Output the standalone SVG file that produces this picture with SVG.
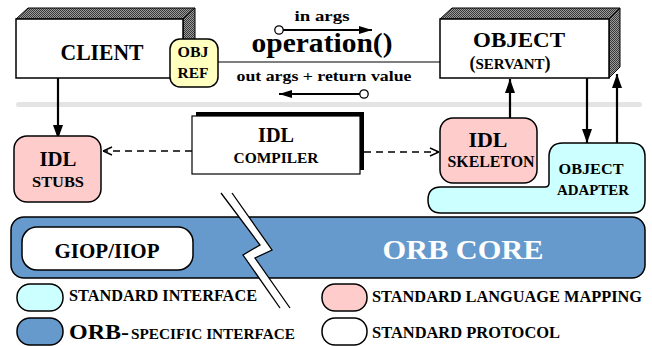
<svg xmlns="http://www.w3.org/2000/svg" width="652" height="346" viewBox="0 0 652 346">
  <style>
    text { font-family: "Liberation Serif", "Times New Roman", serif; font-weight: bold; fill: #000; }
    .box { fill: #fff; stroke: #000; stroke-width: 1.5; }
    .face { fill: url(#dots); stroke: #000; stroke-width: 1; }
    .pink { fill: #ffcccc; stroke: #000; stroke-width: 1.5; }
    .cyan { fill: #ccffff; stroke: #000; stroke-width: 1.5; }
    .blue { fill: #6699cc; stroke: #000; stroke-width: 1.5; }
    .yellow { fill: #ffffc0; stroke: #000; stroke-width: 1.5; }
    .flow { stroke: #000; stroke-width: 2.2; fill: none; }
    .dash { stroke: #000; stroke-width: 1.6; fill: none; stroke-dasharray: 7 5; }
    .thin { stroke: #000; stroke-width: 1.2; fill: none; }
  </style>
  <defs>
    <pattern id="dots" width="2" height="2" patternUnits="userSpaceOnUse">
      <rect width="2" height="2" fill="#9a9a9a"/>
      <rect width="1" height="1" fill="#3a3a3a"/>
      <rect x="1" y="1" width="1" height="1" fill="#3a3a3a"/>
    </pattern>
    <marker id="head" viewBox="0 0 14 10" refX="14" refY="5" markerWidth="14" markerHeight="10" markerUnits="userSpaceOnUse" orient="auto">
      <path d="M0,0 L14,5 L0,10 Z" fill="#000"/>
    </marker>
    <marker id="headS" viewBox="0 0 13 8" refX="13" refY="4" markerWidth="13" markerHeight="8" markerUnits="userSpaceOnUse" orient="auto">
      <path d="M0,0 L13,4 L0,8 Z" fill="#000"/>
    </marker>
    <marker id="open" viewBox="0 0 10 10" refX="10" refY="5" markerWidth="10" markerHeight="10" markerUnits="userSpaceOnUse" orient="auto">
      <path d="M1,1 L10,5 L1,9" fill="none" stroke="#000" stroke-width="1.4"/>
    </marker>
  </defs>

  <!-- separator between application and ORB layers -->
  <rect x="16" y="102" width="626" height="5" rx="2.5" fill="#e4e4e4"/>

  <!-- ORB core with the network break -->
  <g id="orb-core">
    <rect class="blue" x="11" y="217" width="634" height="61" rx="13"/>
    <text x="463" y="259" font-size="27" text-anchor="middle" style="fill:#fff" textLength="161" lengthAdjust="spacingAndGlyphs">ORB  CORE</text>
  </g>
  <g id="giop">
    <rect class="box" x="22" y="227" width="171" height="43" rx="15"/>
    <text x="107" y="258" font-size="20" text-anchor="middle" textLength="105" lengthAdjust="spacingAndGlyphs">GIOP/IIOP</text>
  </g>
  <g id="break">
    <polygon points="221,193 260,245 243,255 280,308 290,308 255,258 272,250 232,193" fill="#fff"/>
    <polyline points="221,193 260,245 243,255 280,308" fill="none" stroke="#000" stroke-width="1.3"/>
    <polyline points="232,193 272,250 255,258 290,308" fill="none" stroke="#000" stroke-width="1.3"/>
  </g>

  <!-- client -->
  <g id="client">
    <polygon class="face" points="16,19 28,8 195,8 183,19"/>
    <polygon class="face" points="183,19 195,8 195,67 183,78"/>
    <rect class="box" x="16" y="19" width="167" height="59"/>
    <text x="102" y="60" font-size="23" text-anchor="middle" textLength="83" lengthAdjust="spacingAndGlyphs">CLIENT</text>
  </g>

  <!-- object (servant) -->
  <g id="object">
    <polygon class="face" points="440,19 452,8 620,8 609,19"/>
    <polygon class="face" points="609,19 620,8 620,67 609,78"/>
    <rect class="box" x="440" y="19" width="169" height="59"/>
    <text x="519" y="47" font-size="22" text-anchor="middle" textLength="92" lengthAdjust="spacingAndGlyphs">OBJECT</text>
    <text x="510" y="69" text-anchor="middle"><tspan font-size="18">(</tspan><tspan font-size="15">SERVANT</tspan><tspan font-size="18">)</tspan></text>
  </g>

  <!-- operation invocation -->
  <g id="connectors">
    <line class="thin" x1="218" y1="62" x2="440" y2="62"/>
    <line class="flow" x1="283" y1="30" x2="372" y2="30" stroke-width="1.8" marker-end="url(#headS)"/>
    <circle cx="279" cy="30" r="4.2" fill="#fff" stroke="#000" stroke-width="1.3"/>
    <line class="flow" x1="360" y1="94" x2="279" y2="94" stroke-width="1.8" marker-end="url(#headS)"/>
    <circle cx="364" cy="94" r="4.2" fill="#fff" stroke="#000" stroke-width="1.3"/>

    <line class="flow" x1="58" y1="78" x2="58" y2="139" marker-end="url(#head)"/>
    <line class="flow" x1="510" y1="118" x2="510" y2="79" marker-end="url(#head)"/>
    <line class="flow" x1="587" y1="78" x2="587" y2="143" marker-end="url(#head)"/>
    <line class="flow" x1="617" y1="143" x2="617" y2="74" marker-end="url(#head)"/>

    <line class="dash" x1="192" y1="151" x2="103" y2="151" marker-end="url(#open)"/>
    <line class="dash" x1="364" y1="152" x2="439" y2="152" marker-end="url(#open)"/>
  </g>

  <g id="op-labels">
    <text x="322" y="21" font-size="15" text-anchor="middle" textLength="55" lengthAdjust="spacingAndGlyphs">in  args</text>
    <text x="322" y="52" font-size="27" text-anchor="middle" textLength="141" lengthAdjust="spacingAndGlyphs">operation()</text>
    <text x="324" y="81" font-size="15" text-anchor="middle" textLength="175" lengthAdjust="spacingAndGlyphs">out  args + return  value</text>
  </g>

  <!-- object reference held by the client -->
  <g id="objref">
    <rect class="yellow" x="170" y="39" width="48" height="48" rx="10"/>
    <text x="193" y="57" font-size="15" text-anchor="middle" textLength="31" lengthAdjust="spacingAndGlyphs">OBJ</text>
    <text x="193" y="78" font-size="15" text-anchor="middle" textLength="31" lengthAdjust="spacingAndGlyphs">REF</text>
  </g>

  <!-- IDL stubs -->
  <g id="stubs">
    <rect class="pink" x="14" y="136" width="87" height="66" rx="13"/>
    <text x="58" y="166" font-size="21" text-anchor="middle" textLength="37" lengthAdjust="spacingAndGlyphs">IDL</text>
    <text x="58" y="187" font-size="15" text-anchor="middle" textLength="52" lengthAdjust="spacingAndGlyphs">STUBS</text>
  </g>

  <!-- IDL compiler -->
  <g id="compiler">
    <rect x="196" y="112" width="168" height="58" fill="#000"/>
    <rect x="192" y="116" width="168" height="58" fill="#fff" stroke="#000" stroke-width="1.2"/>
    <text x="276" y="142" font-size="21" text-anchor="middle" textLength="36" lengthAdjust="spacingAndGlyphs">IDL</text>
    <text x="276" y="163" font-size="15" text-anchor="middle" textLength="85" lengthAdjust="spacingAndGlyphs">COMPILER</text>
  </g>

  <!-- object adapter -->
  <g id="adapter">
    <path class="cyan" d="M441,187 L545,187 Q549,187 549,183 L549,157 Q549,143 563,143 L631,143 Q645,143 645,157 L645,200 Q645,213 632,213 L441,213 Q428,213 428,200 Q428,187 441,187 Z"/>
    <text x="591" y="174" font-size="15" text-anchor="middle" textLength="65" lengthAdjust="spacingAndGlyphs">OBJECT</text>
    <text x="593" y="195" font-size="15" text-anchor="middle" textLength="72" lengthAdjust="spacingAndGlyphs">ADAPTER</text>
  </g>

  <!-- IDL skeleton -->
  <g id="skeleton">
    <rect class="pink" x="440" y="118" width="97" height="65" rx="13"/>
    <text x="488" y="147" font-size="21" text-anchor="middle" textLength="39" lengthAdjust="spacingAndGlyphs">IDL</text>
    <text x="491" y="167" font-size="16" text-anchor="middle" textLength="87" lengthAdjust="spacingAndGlyphs">SKELETON</text>
  </g>

  <!-- legend -->
  <g id="legend">
    <rect class="cyan" x="17" y="284" width="46" height="27" rx="13"/>
    <text x="69" y="301" font-size="16" textLength="188" lengthAdjust="spacingAndGlyphs">STANDARD  INTERFACE</text>
    <rect class="blue" x="17" y="318" width="46" height="27" rx="13"/>
    <text x="69" y="339" font-size="22" textLength="60" lengthAdjust="spacingAndGlyphs">ORB-</text>
    <text x="131" y="339" font-size="15" textLength="164" lengthAdjust="spacingAndGlyphs">SPECIFIC  INTERFACE</text>
    <rect class="pink" x="322" y="284" width="45" height="27" rx="13"/>
    <text x="372" y="302" font-size="16" textLength="270" lengthAdjust="spacingAndGlyphs">STANDARD  LANGUAGE  MAPPING</text>
    <rect class="box" x="322" y="318" width="45" height="27" rx="13"/>
    <text x="372" y="338" font-size="16" textLength="188" lengthAdjust="spacingAndGlyphs">STANDARD  PROTOCOL</text>
  </g>
</svg>
